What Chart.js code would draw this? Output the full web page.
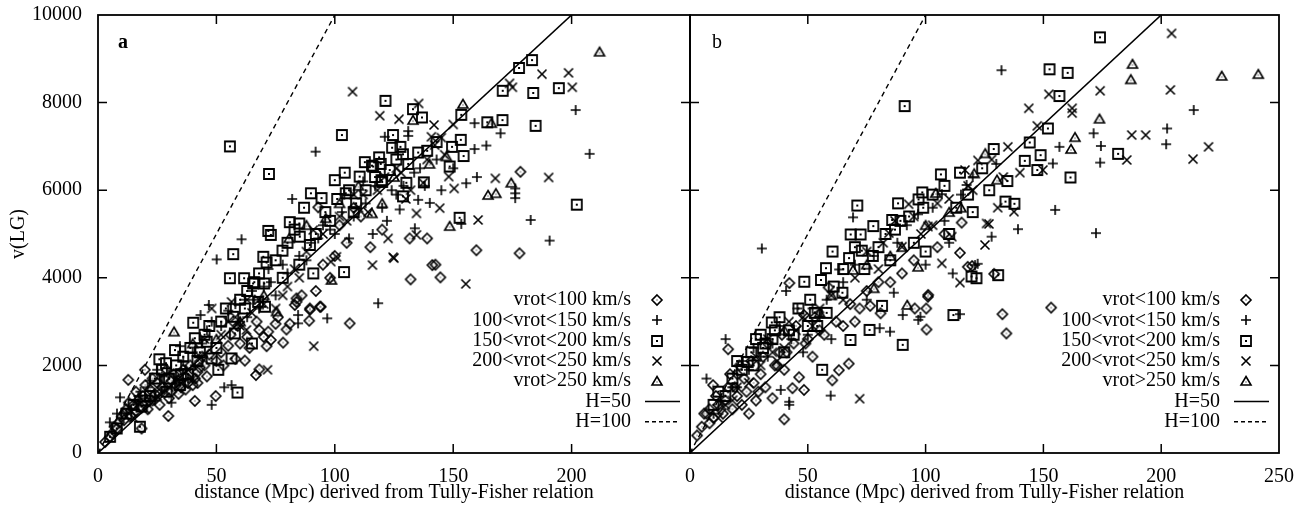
<!DOCTYPE html>
<html>
<head>
<meta charset="utf-8">
<script src="https://cdn.jsdelivr.net/npm/chart.js@4.4.1/dist/chart.umd.min.js"></script>
<style>
html,body{margin:0;padding:0;background:#fff;}
#wrap{position:relative;width:1306px;height:505px;overflow:hidden;background:#fff;}
canvas{position:absolute;top:0;}
#ca{left:0;}
#cb{left:640px;}
</style>
</head>
<body>
<div id="wrap">
<canvas id="ca" width="710" height="505"></canvas>
<canvas id="cb" width="666" height="505"></canvas>
</div>
<script>
// ---------- labels / ticks ----------
const CATEGORIES = ['vrot<100 km/s', '100<vrot<150 km/s', '150<vrot<200 km/s', '200<vrot<250 km/s', 'vrot>250 km/s'];
const LINE_LABELS = ['H=50', 'H=100'];
const PANEL_LABELS = ['a', 'b'];
const X_TICKS = [0, 50, 100, 150, 200, 250];
const Y_TICKS = [0, 2000, 4000, 6000, 8000, 10000];
const X_TITLE = 'distance (Mpc) derived from Tully-Fisher relation';
const Y_TITLE = 'v(LG)';

// Hubble lines: [distance, velocity] endpoints
const H50_LINE = [[0, 0], [200, 10000]];
const H100_LINE = [[0, 0], [100, 10000]];

// ---------- panel a data: [distance Mpc, v(LG) km/s] ----------
const A_VROT_LT100 = [[3,250],[5,370],[6,450],[8,560],[9,700],[10,830],[11,900],[12,1000],[12.8,1670],[14,850],[15,1100],[16,950],[17,1200],[18.4,560],[18,1060],[19,1300],[19.8,1900],[21,1000],[22,1450],[23,1200],[24,1350],[25,1600],[26,1100],[27,1500],[28,1700],[29.7,845],[30,1250],[31,1400],[32,1800],[33,1550],[34,1650],[35,1500],[36,1900],[37,1750],[38,1600],[39,2000],[40.9,1190],[41,1700],[42,1850],[43,1950],[44,2200],[45,2000],[46,1750],[49.7,1300],[50,2100],[52,2300],[55,2450],[58,2150],[60,2500],[62,2110],[64,2400],[66.7,1780],[68.1,1910],[68.1,2810],[70,2650],[71.2,2440],[71.9,2770],[73,2580],[75,2950],[78.2,2520],[79.6,2820],[83.1,3380],[83.8,3530],[83.8,3450],[89.5,3300],[89.2,3020],[89.5,3270],[93.7,3340],[94.1,3340],[93,5610],[100,4500],[106.3,2960],[131.6,4900],[139,4900],[132,3965],[141.2,4290],[142.5,4300],[144.6,4010],[159.8,4630],[178,4560],[178.4,6420],[111,5400],[120,5100],[105,4800],[95,4300],[98,4000],[102,5200],[108,5600],[115,4700],
  [7,600],[11,750],[13,1150],[16,1400],[20,1550],[23,1700],[26,1350],[29,1900],[31,1650],[34,1350],[37,1450],[40,1550],[42,1600],[47,2250],[53,2000],[56,2700],[59,2900],[63,2650],[67,3000],[76,3100],[81,2950],[86,3600],[92,3700]];
const A_VROT_100_150 = [[5,700],[9.3,1270],[12,900],[15.6,1210],[18,1400],[20,1250],[22,1650],[25,1900],[28,1500],[30,1800],[31,1150],[34.6,2440],[36,2100],[38,1700],[40,2300],[43.3,3150],[46.8,3380],[48,1100],[50.1,4420],[53.3,1500],[56.4,1550],[48,3000],[52,2900],[55,3250],[60.6,4880],[60,3000],[62,3500],[65,3700],[68,3300],[70,3800],[72,4200],[75,3600],[80,4100],[82,5800],[85,4500],[84.5,2960],[84.5,3150],[90,4800],[91.9,6880],[95,5200],[96.8,3075],[100,5000],[104,5900],[108,5400],[112,6200],[116,5000],[118.3,3420],[120,5600],[121.1,7220],[124,6000],[127.4,5560],[131,7350],[131,7240],[133.5,6400],[133.8,5130],[135.2,5780],[138,6100],[140.1,5710],[145,6000],[150,6500],[153.4,5230],[155.5,6160],[159,7530],[159,6940],[164,7020],[176.2,6040],[176.2,5930],[176.2,5820],[182.7,5320],[190.7,4850],[201.7,7830],[207.6,6830],[160,6300],[170,7300],
  [8,900],[14,1000],[17,1300],[21,1500],[24,1200],[27,1750],[33,1600],[37,1900],[41,2000],[44,2500],[46,2800],[58,3400],[63,3100],[66,3500],[73,3900],[78,4300],[88,4400],[93,4900],[98,5100],[103,5500],[106,4900],[113,5700],[117,6100],[122,5300],[126,5900],[129,6100],[136,6500],[143,6700]];
const A_VROT_150_200 = [[5.1,370],[7.9,560],[15,1100],[17.7,600],[18.4,1060],[22,1300],[25.9,2140],[28.7,2050],[29,1400],[32.5,2350],[34.6,1550],[38,1800],[40.2,2975],[40.9,2620],[45.9,2540],[48,2160],[50.8,1900],[56.4,2160],[57.1,3110],[57.8,2730],[58.9,1380],[55.7,3990],[57.1,4540],[55.7,7000],[61.7,3990],[65.5,3870],[67.6,3450],[70.5,3340],[69.8,4480],[70.2,3870],[71.2,4350],[71.9,5070],[72.2,6370],[73,4980],[77.9,4620],[81,5270],[85,5240],[85.2,4940],[89.5,4750],[89.9,5930],[90.9,4100],[94.4,5820],[100,6230],[103,7260],[103.9,4130],[104.2,6400],[104.6,5930],[110.5,6310],[112.7,6640],[115.7,6560],[116.2,6540],[118.7,6750],[119.4,6600],[119.7,6230],[120,6190],[121.4,8040],[123.2,6460],[124.2,6970],[124.6,7260],[127.7,6990],[128.8,6820],[128.8,5860],[130.2,6170],[133,7850],[135.2,6860],[136.8,7660],[137.6,6180],[148.5,6540],[149.5,6990],[152.7,5370],[153.2,7150],[153.4,7720],[154.4,6780],[164.4,7550],[170.8,7600],[170.9,8270],[177.8,8790],[183.3,8970],[183.8,8220],[184.8,7470],[194.6,8330],[202.2,5670],[108,5500],[98,5300],[92,5000],[85,4300],[78,4000],[62,3300],[65,2500],[45,2700],[50,2400],[35,1800],[42,2100],
  [12,900],[20,1200],[24,1700],[27,1900],[30,1700],[33,2000],[36,2200],[39,2400],[43,2300],[47,2900],[52,3000],[54,3300],[60,3500],[63,3700],[66,3900],[68,4100],[75,4400],[80,4800],[83,5100],[87,5600],[96,5500],[101,5800],[106,6000],[109,5700],[113,6000],[117,6300],[126,6700],[131,6600],[139,6900],[143,7100]];
const A_VROT_200_250 = [[20,1000],[25,1300],[30,1500],[35,1600],[40,1700],[45,2600],[48,3300],[56.4,3450],[60,2900],[62.7,2810],[65,3200],[68,3500],[71.6,1900],[75,3300],[80,3800],[85,4000],[90.9,5090],[91.1,2440],[98.3,4370],[100.7,4480],[105,5300],[107.5,8250],[110,5600],[115.9,4290],[119,7700],[122.5,4900],[124.6,4470],[125,4450],[127.1,7620],[130,5800],[134.5,5470],[134.5,4980],[135.4,7980],[137.3,6170],[140.8,7220],[141.9,7490],[142.2,7030],[144.3,5590],[146.4,6810],[148.1,6310],[150.4,6040],[155.3,3860],[160.5,5320],[167.8,6270],[173.8,8440],[175,8350],[187.5,8650],[190.3,6290],[198.7,8680],[200.3,8350],[112,5900],[118,6000],[128,6400],
  [15,800],[22,1200],[28,1400],[33,1700],[38,1900],[43,2200],[52,2700],[55,3000],[58,3100],[63,3500],[70,3400],[78,3600],[83,4200],[88,4600],[95,5000],[102,5400],[108,5900],[114,5500],[121,6300],[126,6500],[132,6000],[139,6700],[145,7200],[150,7500]];
const A_VROT_GT250 = [[32.1,2770],[75.4,3230],[80.7,4900],[96.2,5360],[98.6,3950],[115.7,5470],[133,7600],[147.1,6770],[148.5,5180],[154.1,7970],[164.7,5890],[166.1,7530],[168,5930],[174.5,6170],[211.8,9160],[110,6100],[120,5700],[88,5200],[40,2500],[60,3000],[50,2600],[70,3600],[102,5700],[125,6300],[140,6600]];

// ---------- panel b data ----------
const B_VROT_LT100 = [[3,400],[5,600],[6,900],[8.3,680],[8.3,1000],[9.8,1550],[10,800],[12,1100],[14,900],[15,1200],[16.2,1500],[16.2,2370],[18,1000],[20.1,1800],[20,1300],[22,1100],[24,1400],[25,900],[27,1600],[28,1200],[30,1800],[32,1500],[35,1250],[36,2000],[38,2300],[40,770],[40,1900],[42.2,3880],[43.5,1480],[44,2500],[46.3,1730],[48.4,1440],[48.4,3150],[50,2600],[52,2200],[55,2800],[58.8,3780],[60.4,1660],[63.2,1890],[67.4,2040],[70,3000],[76.5,3360],[80.9,3190],[95.4,3300],[100.3,3300],[100.4,2820],[101,3570],[101.1,3610],[114.6,4570],[115.3,5260],[117.9,4250],[119.8,4270],[129.1,4090],[132.6,3170],[134.3,2730],[153.3,3320],[72,3300],[85,3900],[90,4100],[65,2900],
  [7,900],[11,1300],[13,1000],[17,1800],[19,1500],[21,2000],[23,1700],[26,2100],[29,1400],[31,2200],[33,2500],[37,2000],[39,2700],[41,2300],[45,2900],[49,2500],[53,3100],[57,2700],[62,3000],[68,3400],[75,3700],[80,3900],[95,4400],[105,4700],[108,5000]];
const B_VROT_100_150 = [[7,1700],[15.1,2600],[30.5,4670],[38.5,1440],[40.8,3700],[42.1,1170],[42.1,1100],[45.6,3300],[59.7,1310],[63.3,4190],[69.2,5380],[80.5,2850],[84.9,2770],[86.5,3660],[90.3,3150],[96.8,5450],[96.9,3040],[97.8,3110],[106.9,5910],[111.5,4100],[114.6,3170],[117.4,6120],[121,4290],[122.1,4320],[128,4940],[132.2,8740],[139.2,5110],[155,5550],[154,6610],[156.8,6990],[171.3,7300],[172.3,5020],[174.1,6630],[174.4,7010],[202.1,7050],[202.5,7410],[213.8,7830],[20,1500],[25,1900],[30,2200],[35,2500],[50,2700],[55,3100],[60,2600],[75,3500],[100,4300],[110,4800],[130,6600],
  [10,900],[13,1200],[18,1500],[22,2100],[27,2400],[33,2200],[38,2900],[43,2600],[48,2300],[52,3300],[58,3500],[65,3900],[70,4300],[78,4500],[88,4800],[92,5200],[103,5600],[108,5300],[115,5900],[120,6300]];
const B_VROT_150_200 = [[10,1100],[15,1300],[18,1700],[22,1900],[24.5,2080],[26,2300],[28,2600],[30,2700],[32,2500],[34.7,2980],[36,2800],[40,2300],[44,2700],[48.5,3910],[50,2900],[53,3200],[55.6,3950],[56.1,1900],[57.7,4220],[60.5,4600],[64.7,3660],[67.5,4450],[68.1,2580],[68.2,4990],[71,5650],[72.4,4990],[72.9,4620],[76.2,2810],[77.6,4500],[77.8,5180],[81.5,3360],[85.8,5320],[88.3,5700],[89.3,5300],[90.3,2470],[91.1,7920],[97,5790],[98.6,5950],[106.5,6360],[111.8,3150],[114.6,6400],[119.5,4030],[121.6,3990],[128.9,6940],[130.8,4060],[133.9,5740],[134.7,6210],[137.7,5690],[142.1,6670],[144.2,7090],[147.4,6460],[148.8,6800],[151.9,7410],[152.6,8760],[156.8,8150],[160.3,8680],[161.5,6290],[174,9490],[181.7,6830],[100,4600],[110,5000],[120,5500],[85,4400],[95,4800],
  [12,1400],[20,2100],[27,2000],[31,2400],[35,2600],[38,3100],[42,2800],[46,3300],[51,3500],[54,2900],[58,3200],[61,3800],[65,4200],[70,4700],[74,4200],[80,4700],[83,5000],[87,5100],[93,5400],[99,5600],[103,5900],[108,6100],[113,5600],[118,5900],[124,6500],[127,6000]];
const B_VROT_200_250 = [[12,800],[18,1200],[25,1600],[30,2000],[35,2300],[40,2400],[45,2800],[55,3300],[72,1240],[84.4,5020],[90,4710],[92.8,5680],[101,5170],[103,5200],[106.9,4330],[111.1,4940],[114.6,3890],[116.7,6460],[122.2,6680],[125.2,4750],[125.9,5240],[126.9,5230],[130.6,5600],[134.9,6990],[137.5,5510],[140,6400],[143.8,7870],[147.4,7470],[149.8,6460],[152.3,8190],[162.2,7870],[162.2,7760],[174.1,8270],[185.4,6690],[187.5,7260],[193.4,7260],[203.9,8290],[204.4,9580],[213.5,6710],[220.1,6990],[65,3500],[80,4200],[110,5800],[118,6100],
  [15,1100],[20,1500],[28,2200],[33,2600],[37,2100],[42,3000],[48,3100],[52,2900],[60,3600],[70,4000],[75,4600],[82,4800],[87,5300],[95,5400],[98,5000],[105,5700],[120,6000],[128,6700],[133,6300]];
const B_VROT_GT250 = [[69.2,4180],[78,3760],[92.2,3380],[96.8,4250],[104.3,5935],[120.6,6380],[125.3,6840],[130.3,6240],[161.7,6940],[163.4,7210],[173.8,7630],[187.1,8530],[187.8,8880],[225.7,8610],[241.2,8650],[85,4500],[110,5500],[60,3600],[40,2800],[55,3200],[75,4300],[90,4700],[100,5200],[115,5600]];

// ---------- markers ----------
function marker(kind) {
  const s = 14, c = document.createElement('canvas');
  c.width = s; c.height = s;
  const g = c.getContext('2d');
  g.strokeStyle = '#000'; g.fillStyle = '#000'; g.lineWidth = 1.6;
  g.beginPath();
  if (kind === 'dia') {
    g.moveTo(7, 2); g.lineTo(12, 7); g.lineTo(7, 12); g.lineTo(2, 7); g.closePath(); g.stroke();
    g.fillRect(6.5, 6.5, 1, 1);
  } else if (kind === 'plus') {
    g.moveTo(2, 7); g.lineTo(12, 7); g.moveTo(7, 2); g.lineTo(7, 12); g.stroke();
  } else if (kind === 'sq') {
    g.lineWidth = 1.8;
    g.rect(2, 2, 10, 10); g.stroke();
    g.fillRect(6, 6, 2, 2);
  } else if (kind === 'x') {
    g.moveTo(2.5, 2.5); g.lineTo(11.5, 11.5); g.moveTo(11.5, 2.5); g.lineTo(2.5, 11.5); g.stroke();
  } else if (kind === 'tri') {
    g.moveTo(7, 2.5); g.lineTo(12, 11); g.lineTo(2, 11); g.closePath(); g.stroke();
    g.fillRect(6.5, 7.5, 1, 1);
  }
  return c;
}
const MARKERS = ['dia', 'plus', 'sq', 'x', 'tri'].map(marker);

const FONT = "'Liberation Serif', 'Times New Roman', 'DejaVu Serif', serif";
Chart.defaults.font.family = FONT;
Chart.defaults.font.size = 20;
Chart.defaults.color = '#000';

const toXY = arr => arr.map(p => ({x: p[0], y: p[1]}));

function buildDatasets(series) {
  const ds = series.map((arr, i) => ({
    type: 'scatter', label: CATEGORIES[i], data: toXY(arr),
    pointStyle: MARKERS[i], pointRadius: 5, pointHoverRadius: 5,
    borderColor: '#000', backgroundColor: 'rgba(0,0,0,0)'
  }));
  ds.push({type: 'line', label: LINE_LABELS[0], data: toXY(H50_LINE), borderColor: '#000', borderWidth: 1.6, pointRadius: 0, fill: false});
  ds.push({type: 'line', label: LINE_LABELS[1], data: toXY(H100_LINE), borderColor: '#000', borderWidth: 1.4, borderDash: [5, 4], pointRadius: 0, fill: false});
  return ds;
}

// frame, inward ticks, panel label, legend
function framePlugin(panelLabel, bold) {
  return {
    id: 'frame' + panelLabel,
    afterDraw(chart) {
      const {ctx, chartArea: a, scales: {x, y}} = chart;
      ctx.save();
      ctx.strokeStyle = '#000';
      ctx.lineWidth = 1.8;
      ctx.strokeRect(a.left, a.top, a.right - a.left, a.bottom - a.top);
      ctx.lineWidth = 1.5;
      const L = 9;
      ctx.beginPath();
      X_TICKS.forEach(v => {
        if (v <= x.min || v >= x.max) return;
        const px = x.getPixelForValue(v);
        ctx.moveTo(px, a.bottom); ctx.lineTo(px, a.bottom - L);
        ctx.moveTo(px, a.top); ctx.lineTo(px, a.top + L);
      });
      Y_TICKS.forEach(v => {
        if (v <= y.min || v >= y.max) return;
        const py = y.getPixelForValue(v);
        ctx.moveTo(a.left, py); ctx.lineTo(a.left + L, py);
        ctx.moveTo(a.right, py); ctx.lineTo(a.right - L, py);
      });
      ctx.stroke();
      // panel label
      ctx.fillStyle = '#000';
      ctx.font = (bold ? 'bold ' : '') + '20px ' + FONT;
      ctx.textAlign = 'center'; ctx.textBaseline = 'middle';
      ctx.fillText(panelLabel, a.left + (bold ? 25 : 27), a.top + 28);
      // legend
      ctx.font = '20px ' + FONT;
      ctx.textAlign = 'right';
      const textRight = a.right - 59, symX = a.right - 33;
      const rowY = r => 300 + r * 20.3;
      CATEGORIES.forEach((lab, i) => {
        ctx.fillText(lab, textRight, rowY(i));
        const m = MARKERS[i];
        ctx.drawImage(m, Math.round(symX - m.width / 2), Math.round(rowY(i) - m.height / 2));
      });
      LINE_LABELS.forEach((lab, j) => {
        const yy = rowY(5 + j);
        ctx.fillText(lab, textRight, yy);
        ctx.beginPath();
        ctx.lineWidth = 1.4;
        ctx.setLineDash(j === 0 ? [] : [4, 3]);
        ctx.moveTo(a.right - 45, yy); ctx.lineTo(a.right - 10, yy);
        ctx.stroke();
      });
      ctx.setLineDash([]);
      ctx.restore();
    }
  };
}

function xScale(hideLast) {
  return {
    type: 'linear', min: 0, max: 250,
    grid: {display: false, drawTicks: false}, border: {display: false},
    afterBuildTicks: s => { s.ticks = X_TICKS.map(v => ({value: v})); },
    ticks: {padding: 12, maxRotation: 0, autoSkip: false,
      callback: v => (hideLast && v === 250) ? '' : String(v)},
    title: {display: true, text: X_TITLE, padding: {top: 0, bottom: 0}},
    afterFit: s => { s.height = 52; }
  };
}

function yScale(show) {
  return {
    type: 'linear', min: 0, max: 10000, display: show,
    grid: {display: false, drawTicks: false}, border: {display: false},
    afterBuildTicks: s => { s.ticks = Y_TICKS.map(v => ({value: v})); },
    ticks: {padding: 16, autoSkip: false, callback: v => String(v)},
    title: {display: show, text: Y_TITLE, padding: {top: 7, bottom: 0}},
    afterFit: s => { s.width = show ? 98 : 0; s.paddingTop = 0; s.paddingBottom = 0; }
  };
}

new Chart(document.getElementById('ca'), {
  data: {datasets: buildDatasets([A_VROT_LT100, A_VROT_100_150, A_VROT_150_200, A_VROT_200_250, A_VROT_GT250])},
  options: {
    responsive: false, animation: false, devicePixelRatio: 1,
    layout: {padding: {left: 0, right: 20, top: 15, bottom: 0}},
    plugins: {legend: {display: false}, tooltip: {enabled: false}},
    scales: {x: xScale(true), y: yScale(true)}
  },
  plugins: [framePlugin(PANEL_LABELS[0], true)]
});

new Chart(document.getElementById('cb'), {
  data: {datasets: buildDatasets([B_VROT_LT100, B_VROT_100_150, B_VROT_150_200, B_VROT_200_250, B_VROT_GT250])},
  options: {
    responsive: false, animation: false, devicePixelRatio: 1,
    layout: {padding: {left: 50, right: 24, top: 15, bottom: 0}},
    plugins: {legend: {display: false}, tooltip: {enabled: false}},
    scales: {x: xScale(false), y: yScale(false)}
  },
  plugins: [framePlugin(PANEL_LABELS[1], false)]
});
</script>
</body>
</html>
